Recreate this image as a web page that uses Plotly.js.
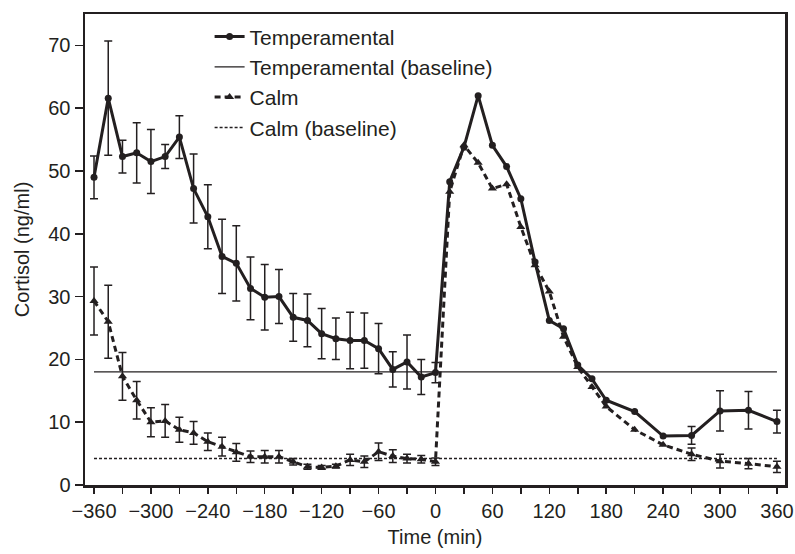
<!DOCTYPE html>
<html>
<head>
<meta charset="utf-8">
<script src="https://cdn.plot.ly/plotly-3.0.1.min.js"></script>
<style>html,body{margin:0;padding:0;background:#fff}#chart{width:795px;height:554px}</style>
</head>
<body>
<div id="chart"></div>
<script>
// Time points (min)
const timePoints = [-360,-345,-330,-315,-300,-285,-270,-255,-240,-225,-210,-195,-180,-165,-150,-135,-120,-105,-90,-75,-60,-45,-30,-15,0,
  15,30,45,60,75,90,105,120,135,150,165,180,210,240,270,300,330,360];

// Temperamental cortisol (ng/ml) and SEM
const temperamental = [49.0,61.6,52.3,52.9,51.5,52.3,55.4,47.2,42.7,36.4,35.3,31.3,29.9,30.0,26.7,26.2,24.1,23.3,23.0,23.0,21.7,18.4,19.6,17.2,17.9,
  48.3,53.8,62.0,54.1,50.7,45.6,35.5,26.2,24.9,19.1,16.9,13.5,11.7,7.8,7.9,11.8,11.9,10.1];
const temperamentalErr = [3.4,9.1,2.6,4.8,5.1,1.9,3.4,5.5,5.1,5.9,6.0,5.0,5.2,4.3,3.8,4.2,4.0,3.3,4.5,4.4,4.0,2.8,4.3,2.8,1.6,
  NaN,NaN,NaN,NaN,NaN,NaN,NaN,NaN,NaN,NaN,NaN,NaN,NaN,NaN,1.4,3.2,3.0,1.8];

// Calm cortisol (ng/ml) and SEM
const calm = [29.3,26.0,17.3,13.5,10.0,10.2,8.8,8.3,6.9,6.1,5.2,4.5,4.5,4.5,3.7,2.9,2.8,3.0,4.0,3.7,5.3,4.6,4.2,4.1,3.7,
  46.7,54.1,51.3,47.2,47.9,41.1,35.0,30.8,23.6,18.8,15.6,12.5,8.8,6.4,4.9,3.8,3.4,2.9];
const calmErr = [5.4,5.8,3.8,3.0,2.3,2.6,2.0,1.8,1.4,1.5,1.4,0.9,1.0,1.0,0.5,0.4,0.3,0.3,0.9,0.9,1.4,1.0,0.7,0.6,0.6,
  NaN,NaN,NaN,NaN,NaN,NaN,NaN,NaN,NaN,NaN,NaN,NaN,NaN,NaN,1.0,1.1,0.8,0.9];

// Baselines
const baselineX = [-360, 360];
const temperamentalBaseline = 18.0;
const calmBaseline = 4.2;

// Ticks
const xTickVals = [-360,-330,-300,-270,-240,-210,-180,-150,-120,-90,-60,-30,0,30,60,90,120,150,180,210,240,270,300,330,360];
const xTickText = ['\u2212360','','\u2212300','','\u2212240','','\u2212180','','\u2212120','','\u221260','','0','','60','','120','','180','','240','','300','','360'];
const yTickVals = [0,10,20,30,40,50,60,70];

const ink = '#231f20';
const FONT = 'Liberation Sans, Arial, sans-serif';

const traces = [
  {
    x: timePoints, y: temperamental, name: 'Temperamental', type: 'scatter', mode: 'lines+markers',
    line: {color: ink, width: 3},
    marker: {symbol: 'circle', size: 7, color: ink},
    error_y: {type: 'data', array: temperamentalErr, visible: true, color: ink, thickness: 1.5, width: 4}
  },
  {
    x: baselineX, y: baselineX.map(() => temperamentalBaseline), name: 'Temperamental (baseline)', type: 'scatter', mode: 'lines',
    line: {color: ink, width: 1.3}
  },
  {
    x: timePoints, y: calm, name: 'Calm', type: 'scatter', mode: 'lines+markers',
    line: {color: ink, width: 3, dash: '6px,4px'},
    marker: {symbol: 'triangle-up', size: 8, color: ink},
    error_y: {type: 'data', array: calmErr, visible: true, color: ink, thickness: 1.5, width: 4}
  },
  {
    x: baselineX, y: baselineX.map(() => calmBaseline), name: 'Calm (baseline)', type: 'scatter', mode: 'lines',
    line: {color: ink, width: 1.5, dash: '3px,2px'}
  }
];

const layout = {
  width: 795, height: 554,
  margin: {l: 85, r: 10, t: 14, b: 69},
  paper_bgcolor: '#fff', plot_bgcolor: '#fff',
  font: {family: FONT, size: 20, color: ink},
  showlegend: true,
  legend: {x: 0.178, y: 0.995, xanchor: 'left', yanchor: 'top', bgcolor: 'rgba(0,0,0,0)', font: {size: 21, color: ink}},
  xaxis: {
    range: [-369.5, 368.5], showgrid: false, zeroline: false,
    tickmode: 'array', tickvals: xTickVals, ticktext: xTickText,
    ticks: 'outside', ticklen: 6, tickwidth: 1.5, tickcolor: ink,
    ticklabeloverflow: 'allow',
    showline: true, linecolor: ink, linewidth: 2.5, mirror: true,
    tickfont: {size: 20, color: ink},
    title: {text: 'Time (min)', font: {size: 20, color: ink}, standoff: 10}
  },
  yaxis: {
    range: [0, 75], showgrid: false, zeroline: false,
    tickmode: 'array', tickvals: yTickVals,
    ticks: 'outside', ticklen: 8, tickwidth: 1.5, tickcolor: ink,
    showline: true, linecolor: ink, linewidth: 2.5, mirror: true,
    tickfont: {size: 20, color: ink},
    title: {text: 'Cortisol (ng/ml)', font: {size: 20, color: ink}, standoff: 14}
  }
};

Plotly.newPlot('chart', traces, layout, {displayModeBar: false, staticPlot: true});
</script>
</body>
</html>
